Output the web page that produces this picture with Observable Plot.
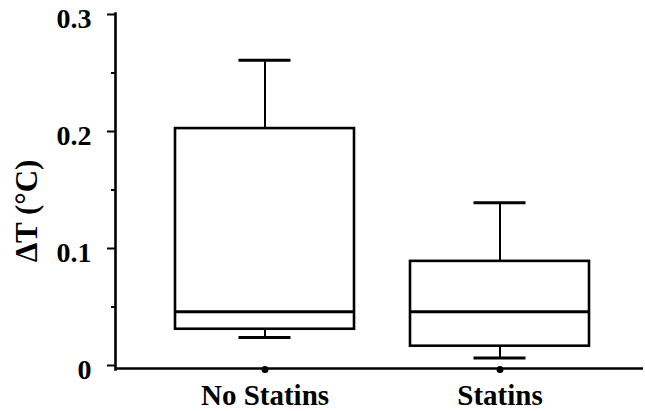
<!DOCTYPE html>
<html>
<head>
<meta charset="utf-8">
<script src="https://cdn.jsdelivr.net/npm/d3@7"></script>
<script src="https://cdn.jsdelivr.net/npm/@observablehq/plot@0.6"></script>
<style>
  html, body { margin: 0; padding: 0; background: #fff; }
  #chart svg text { font-family: "Liberation Serif", "Times New Roman", serif !important; font-weight: bold; }
</style>
</head>
<body>
<div id="chart"></div>
<script>
const groups = ["No Statins", "Statins"];
const whiskerLow = [0.024, 0.0065];
const q1 = [0.031, 0.0165];
const median = [0.046, 0.046];
const q3 = [0.2025, 0.089];
const whiskerHigh = [0.261, 0.139];
const majorTicks = [0, 0.1, 0.2, 0.3];
const majorTickLabels = ["0", "0.1", "0.2", "0.3"];
const minorTicks = [0.05, 0.15, 0.25];
const yLabel = ["ΔT (°C)"];

const rows = groups.map((g, i) => ({
  group: g, lo: whiskerLow[i], q1: q1[i], med: median[i], q3: q3[i], hi: whiskerHigh[i]
}));

const font = "Liberation Serif";

const chart = Plot.plot({
  width: 645,
  height: 411,
  marginLeft: 115,
  marginRight: 2,
  marginTop: 14,
  marginBottom: 46,
  style: { fontFamily: font, fontWeight: "bold", background: "#fff", color: "#000" },
  x: { domain: groups, range: [147.5, 617.5], paddingInner: 0.238, paddingOuter: 0.119, label: null },
  y: { domain: [0, 0.3], label: null },
  marks: [
    // whiskers
    Plot.ruleX(rows, { x: "group", y1: "q3", y2: "hi", stroke: "#000", strokeWidth: 2 }),
    Plot.ruleX(rows, { x: "group", y1: "lo", y2: "q1", stroke: "#000", strokeWidth: 2 }),
    // caps
    Plot.tickY(rows, { x: "group", y: "hi", stroke: "#000", strokeWidth: 3, inset: 63.5 }),
    Plot.tickY(rows, { x: "group", y: "lo", stroke: "#000", strokeWidth: 3, inset: 63.5 }),
    // boxes
    Plot.barY(rows, { x: "group", y1: "q1", y2: "q3", fill: "#fff", stroke: "#000", strokeWidth: 2.6 }),
    // medians
    Plot.tickY(rows, { x: "group", y: "med", stroke: "#000", strokeWidth: 3 }),
    // axes lines
    Plot.frame({ anchor: "left", stroke: "#000", strokeWidth: 2.6, insetTop: -1, insetBottom: -4 }),
    Plot.ruleY([0], { dy: 3, stroke: "#000", strokeWidth: 2.6 }),
    // y axis ticks
    Plot.axisY(majorTicks, { tickSize: 8, strokeWidth: 2, text: null, label: null }),
    Plot.axisY(minorTicks, { tickSize: 4, strokeWidth: 2, text: null, label: null }),
    // y tick labels
    Plot.axisY(majorTicks, {
      tickSize: 0, tickPadding: 24, fontSize: 28, dy: 5, fontFamily: font, fontWeight: "bold",
      tickFormat: (d) => majorTickLabels[majorTicks.indexOf(d)], label: null
    }),
    // x tick dots
    Plot.dot(groups, { x: (d) => d, y: () => 0, dy: 4, r: 3.5, fill: "#000", stroke: null }),
    // x labels
    Plot.axisX({ tickSize: 0, tickPadding: 19, fontSize: 29, fontFamily: font, fontWeight: "bold", label: null }),
    // y label
    Plot.text(yLabel, {
      text: (d) => d, frameAnchor: "left", textAnchor: "middle", dx: -88, dy: 21, rotate: -90,
      fontSize: 31, fontWeight: "bold", fontFamily: font, fill: "#000"
    })
  ]
});

document.getElementById("chart").appendChild(chart);
</script>
</body>
</html>
